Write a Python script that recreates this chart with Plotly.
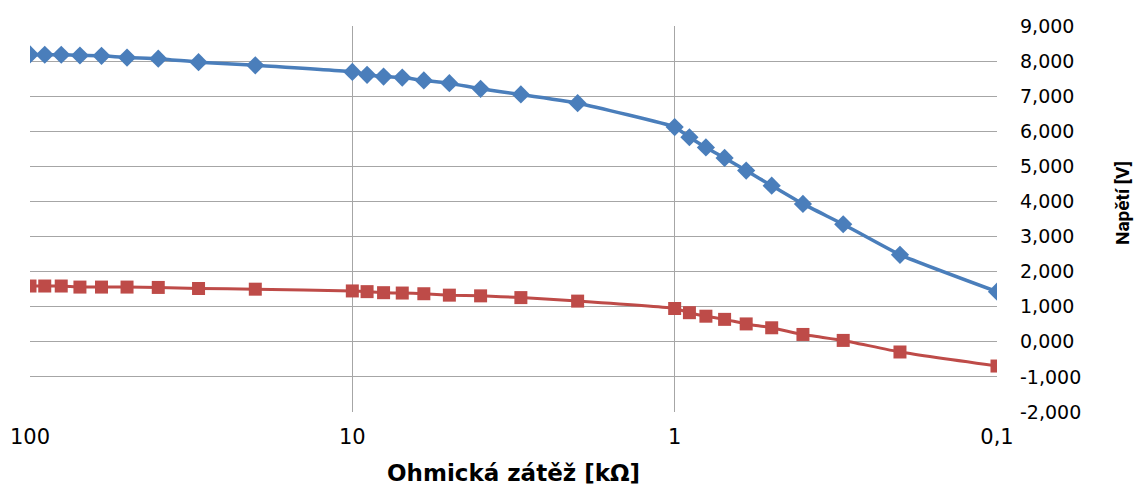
import plotly.graph_objects as go

# Load resistance [kΩ]
resistance = [100, 90, 80, 70, 60, 50, 40, 30, 20, 10, 9, 8, 7, 6, 5, 4, 3, 2,
              1, 0.9, 0.8, 0.7, 0.6, 0.5, 0.4, 0.3, 0.2, 0.1]
# Voltage series [V]
voltage_blue = [8.19, 8.18, 8.18, 8.16, 8.15, 8.10, 8.07, 7.97, 7.88, 7.69, 7.61, 7.56,
                7.53, 7.45, 7.37, 7.21, 7.05, 6.80, 6.12, 5.83, 5.54, 5.24, 4.88, 4.45,
                3.93, 3.35, 2.48, 1.43]
voltage_red = [1.59, 1.59, 1.59, 1.56, 1.56, 1.56, 1.55, 1.52, 1.50, 1.45, 1.43, 1.40,
               1.39, 1.37, 1.33, 1.31, 1.26, 1.16, 0.95, 0.83, 0.73, 0.64, 0.51, 0.40,
               0.21, 0.04, -0.29, -0.69]

x_tickvals = [100, 10, 1, 0.1]
x_ticktext = ["100", "10", "1", "0,1"]
y_tickvals = [9, 8, 7, 6, 5, 4, 3, 2, 1, 0, -1, -2]
y_ticktext = ["9,000", "8,000", "7,000", "6,000", "5,000", "4,000", "3,000",
              "2,000", "1,000", "0,000", "-1,000", "-2,000"]

BLUE = "#4A7EBB"
RED = "#BE4B48"
GRID = "#A6A6A6"
FONT = "DejaVu Sans"

fig = go.Figure()
fig.add_trace(go.Scatter(
    x=resistance, y=voltage_blue, mode="lines+markers",
    line=dict(color=BLUE, width=3.5, shape="spline", smoothing=0.4),
    marker=dict(symbol="diamond", size=14, color=BLUE, line=dict(width=0)),
    showlegend=False,
))
fig.add_trace(go.Scatter(
    x=resistance, y=voltage_red, mode="lines+markers",
    line=dict(color=RED, width=3, shape="spline", smoothing=0.4),
    marker=dict(symbol="square", size=13, color=RED, line=dict(width=0)),
    showlegend=False,
))

L, R, T, B = 30, 137, 26, 74
W, H = 1134, 486

fig.update_layout(
    width=W, height=H,
    margin=dict(l=L, r=R, t=T, b=B, pad=0, autoexpand=False),
    paper_bgcolor="white", plot_bgcolor="white",
    font=dict(family=FONT, size=20, color="#000000"),
    xaxis=dict(
        type="log", range=[2, -1], autorange=False, automargin=False,
        tickvals=x_tickvals, ticktext=x_ticktext,
        showgrid=True, gridcolor=GRID, gridwidth=1,
        showline=False, zeroline=False, ticks="",
        tickfont=dict(family=FONT, size=21, color="#000000"),
        ticklabelstandoff=10,
    ),
    yaxis=dict(
        side="right", range=[-2, 9], autorange=False, automargin=False,
        tickvals=y_tickvals, ticktext=y_ticktext,
        showgrid=True, gridcolor=GRID, gridwidth=1,
        showline=False, zeroline=False, ticks="",
        tickfont=dict(family=FONT, size=19, color="#000000"),
        ticklabelstandoff=22,
    ),
    annotations=[
        dict(text="<b>Ohmická zátěž [kΩ]</b>", xref="paper", yref="paper",
             x=0.5, y=-(473 - (H - B)) / (H - T - B), xanchor="center", yanchor="middle",
             showarrow=False, font=dict(family=FONT, size=23, color="#000000")),
        dict(text="<b>Napětí [V]</b>", xref="paper", yref="paper",
             x=(1122 - L) / (W - L - R), y=(H - B - 203) / (H - T - B),
             xanchor="center", yanchor="middle", textangle=-90,
             showarrow=False, font=dict(family="Roboto", size=19, color="#000000")),
    ],
)

fig.write_html("out.html", config={"displayModeBar": False},
               post_script="document.body.style.margin='0';")
